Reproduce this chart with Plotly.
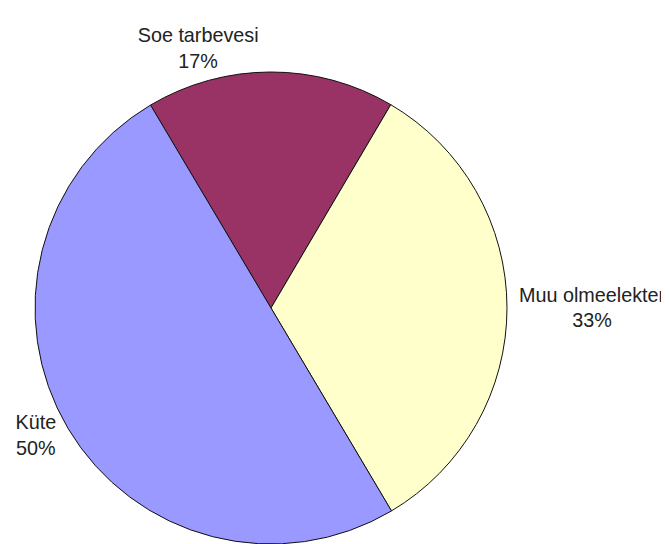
import plotly.graph_objects as go

labels = ["Soe tarbevesi", "Muu olmeelekter", "Küte"]
values = [17, 33, 50]
colors = ["#993366", "#FFFFCC", "#9999FF"]

# page body has an 8px default margin, so the figure is sized to fit inside the window
W, H = 661, 536
cx, cy, r = 263, 300, 236

fig = go.Figure(go.Pie(
    labels=labels,
    values=values,
    sort=False,
    direction="clockwise",
    rotation=-30.7,
    marker=dict(colors=colors, line=dict(color="#111111", width=1)),
    textposition="outside",
    texttemplate="%{label}<br>%{percent:.0%}",
    textfont=dict(family="Liberation Sans, Arial, sans-serif", size=19.8, color="#222222"),
    automargin=False,
    showlegend=False,
    hoverinfo="label+percent",
    domain=dict(x=[(cx - r) / W, (cx + r) / W], y=[(H - cy - r) / H, (H - cy + r) / H]),
))

fig.update_layout(
    width=W, height=H,
    margin=dict(l=0, r=0, t=0, b=0),
    paper_bgcolor="white",
    plot_bgcolor="white",
)

fig.write_html("out.html")
